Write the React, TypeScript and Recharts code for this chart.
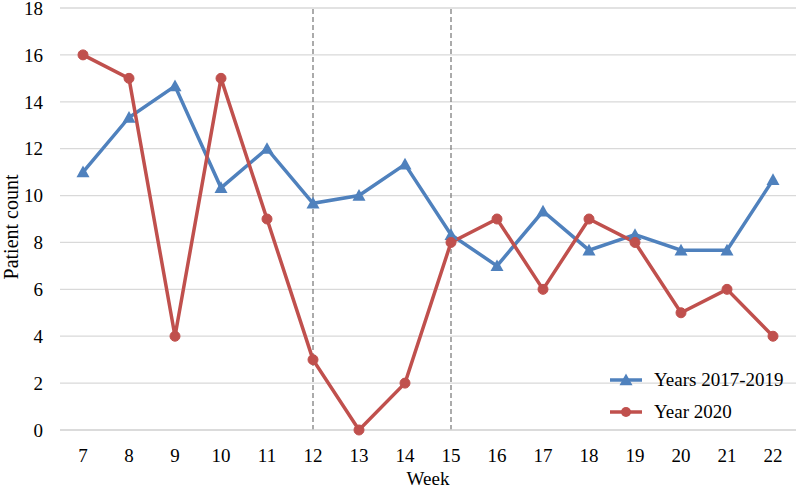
import React from 'react';
import { LineChart, Line, XAxis, YAxis, CartesianGrid, ReferenceLine } from 'recharts';

const weeks = [7, 8, 9, 10, 11, 12, 13, 14, 15, 16, 17, 18, 19, 20, 21, 22];
const years2017to2019 = [11, 13.33, 14.67, 10.33, 12, 9.67, 10, 11.33, 8.33, 7, 9.33, 7.67, 8.33, 7.67, 7.67, 10.67];
const year2020 = [16, 15, 4, 15, 9, 3, 0, 2, 8, 9, 6, 9, 8, 5, 6, 4];
const yTicks = [0, 2, 4, 6, 8, 10, 12, 14, 16, 18];
const markerWeeks = [12, 15];
const seriesNames = ['Years 2017-2019', 'Year 2020'];

const BLUE = '#4f81bd';
const RED = '#c0504d';
const FONT = '"Liberation Serif", serif';
const FS = 19;

const data = weeks.map((w, i) => ({ week: w, a: years2017to2019[i], b: year2020[i] }));

const Triangle = (props: any) => {
  const { cx, cy } = props;
  if (cx == null || cy == null) return null;
  const s = 6.5;
  return <path d={`M${cx},${cy - s} L${cx + s},${cy + s * 0.8} L${cx - s},${cy + s * 0.8} Z`} fill={BLUE} />;
};

const YLabel = (props: any) => {
  const vb = props.viewBox || { x: 0, y: 8, width: 60, height: 422 };
  const cx = 11;
  const cy = vb.y + vb.height / 2 + 8;
  return (
    <text x={cx} y={cy} transform={`rotate(-90, ${cx}, ${cy})`} textAnchor="middle" dominantBaseline="central"
      fill="#000" fontFamily={FONT} fontSize={20}>
      Patient count
    </text>
  );
};

const LegendBox = () => (
  <div style={{ position: 'absolute', left: 608, top: 364, fontFamily: FONT, fontSize: FS, color: '#000' }}>
    {[
      { label: seriesNames[0], color: BLUE, tri: true },
      { label: seriesNames[1], color: RED, tri: false },
    ].map((it) => (
      <div key={it.label} style={{ display: 'flex', alignItems: 'center', height: 32, whiteSpace: 'nowrap' }}>
        <svg width={36} height={16} style={{ marginRight: 10 }}>
          <line x1={2} y1={8} x2={34} y2={8} stroke={it.color} strokeWidth={3.5} />
          {it.tri ? (
            <path d="M18,1.5 L24.5,13.2 L11.5,13.2 Z" fill={it.color} />
          ) : (
            <circle cx={18} cy={8} r={5} fill={it.color} />
          )}
        </svg>
        <span>{it.label}</span>
      </div>
    ))}
  </div>
);

export default function App() {
  return (
    <div style={{ position: 'absolute', left: 0, top: 0, width: 797, height: 489, background: '#fff' }}>
      <LineChart width={797} height={489} data={data} margin={{ top: 8, right: 1, bottom: 0, left: 0 }}>
        <CartesianGrid horizontal vertical={false} stroke="#d9d9d9" strokeWidth={1.3} />
        <XAxis
          dataKey="week"
          height={59}
          padding={{ left: 23, right: 23 }}
          tickLine={false}
          axisLine={{ stroke: '#d9d9d9', strokeWidth: 1.3 }}
          tickSize={0}
          tickMargin={19}
          interval={0}
          tick={{ fill: '#000', fontFamily: FONT, fontSize: FS }}
          label={{ value: 'Week', position: 'insideBottom', offset: 4, fill: '#000', fontFamily: FONT, fontSize: FS }}
        />
        <YAxis
          width={60}
          domain={[0, 18]}
          ticks={yTicks}
          interval={0}
          axisLine={false}
          tickLine={false}
          tickSize={0}
          tickMargin={17}
          tick={{ fill: '#000', fontFamily: FONT, fontSize: FS }}
          label={<YLabel />}
        />
        {markerWeeks.map((w) => (
          <ReferenceLine key={w} x={w} stroke="#7f7f7f" strokeDasharray="5 3" strokeWidth={1.3} />
        ))}
        <Line
          type="linear"
          dataKey="a"
          name={seriesNames[0]}
          stroke={BLUE}
          strokeWidth={3.5}
          dot={<Triangle />}
          activeDot={false}
          isAnimationActive={false}
        />
        <Line
          type="linear"
          dataKey="b"
          name={seriesNames[1]}
          stroke={RED}
          strokeWidth={3.5}
          dot={{ r: 5, fill: RED, stroke: RED, strokeWidth: 1 }}
          activeDot={false}
          isAnimationActive={false}
        />
      </LineChart>
      <LegendBox />
    </div>
  );
}
